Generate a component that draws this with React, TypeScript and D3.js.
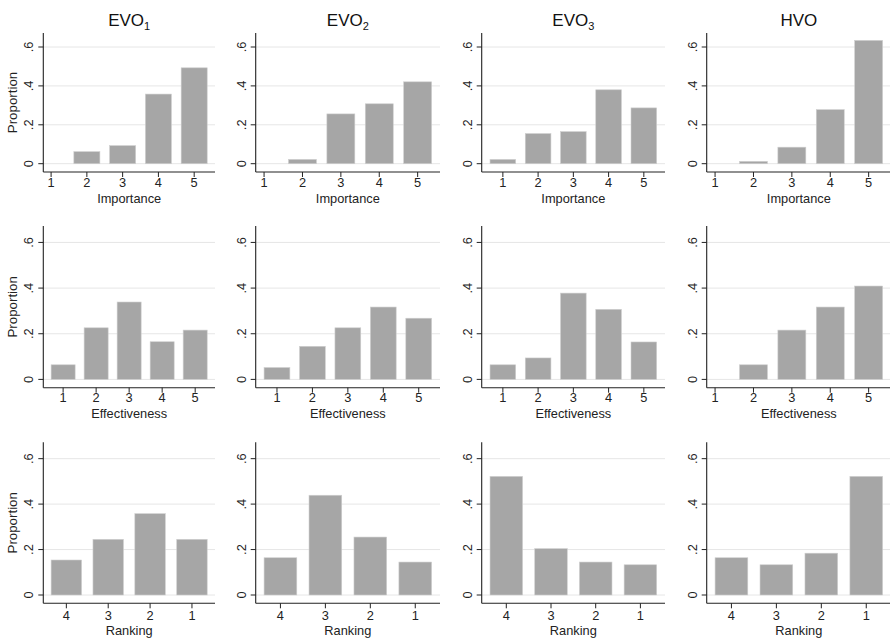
import React from "react";
import * as d3 from "d3";

const W = 890;
const H = 639;

// ---- data ----
const fivePointLabels = ["1", "2", "3", "4", "5"];
const rankingLabels = ["4", "3", "2", "1"];
const yTickValues = [0, 0.2, 0.4, 0.6];
const yTickLabels = ["0", ".2", ".4", ".6"];
const groupNames = ["EVO", "EVO", "EVO", "HVO"];
const groupSubs = ["1", "2", "3", ""];
const rowTitles = ["Importance", "Effectiveness", "Ranking"];

const importanceEVO1 = [0, 0.062, 0.093, 0.358, 0.493];
const importanceEVO2 = [0, 0.022, 0.256, 0.308, 0.421];
const importanceEVO3 = [0.022, 0.155, 0.165, 0.38, 0.287];
const importanceHVO = [0, 0.012, 0.085, 0.278, 0.634];

const effectivenessEVO1 = [0.064, 0.226, 0.339, 0.165, 0.216];
const effectivenessEVO2 = [0.052, 0.145, 0.226, 0.317, 0.268];
const effectivenessEVO3 = [0.064, 0.094, 0.378, 0.307, 0.164];
const effectivenessHVO = [0, 0.064, 0.216, 0.317, 0.409];

const rankingEVO1 = [0.154, 0.245, 0.358, 0.245];
const rankingEVO2 = [0.164, 0.439, 0.255, 0.145];
const rankingEVO3 = [0.522, 0.204, 0.145, 0.133];
const rankingHVO = [0.164, 0.133, 0.184, 0.522];

const rowsData = [
  [importanceEVO1, importanceEVO2, importanceEVO3, importanceHVO],
  [effectivenessEVO1, effectivenessEVO2, effectivenessEVO3, effectivenessHVO],
  [rankingEVO1, rankingEVO2, rankingEVO3, rankingHVO],
];
const rowLabels = [fivePointLabels, fivePointLabels, rankingLabels];

// ---- layout ----
const colLeft = [43.3, 255.7, 481.7, 706.7];
const colRight = [215, 440, 665, 891];
const rowTop = [33, 226, 442.3];
const rowBottom = [172, 387.7, 603.3];
const tickLabelOffset = [14.5, 14.2, 17];
const titleOffset = [30.5, 30.5, 31.5];

const FONT = "'Liberation Sans', Arial, Helvetica, sans-serif";
const BAR_W = 0.728;
const Y_MAX = 0.672;
const ZERO_GAP = 8.3;

type PanelProps = {
  values: number[];
  labels: string[];
  xTitle: string;
  left: number;
  right: number;
  top: number;
  bottom: number;
  labelOff: number;
  titleOff: number;
  showYTitle: boolean;
  title?: { name: string; sub: string } | null;
};

function Panel({ values, labels, xTitle, left, right, top, bottom, labelOff, titleOff, showYTitle, title }: PanelProps) {
  const n = labels.length;
  const positions = labels.map((_, i) => i + 1);
  const nz = values.map((v, i) => (v > 0 ? i + 1 : null)).filter((v) => v !== null) as number[];
  const lo = Math.min(1, (nz[0] ?? 1) - BAR_W / 2);
  const hi = Math.max(n, (nz[nz.length - 1] ?? n) + BAR_W / 2);
  const pad = 0.05 * (hi - lo);
  const x = d3.scaleLinear().domain([lo - pad, hi + pad]).range([left, right]);
  const y = d3.scaleLinear().domain([0, Y_MAX]).range([bottom - ZERO_GAP, top]);
  const step = x(2) - x(1);
  const bw = step * BAR_W;
  const cx = (left + right) / 2;
  const cy = (top + bottom) / 2;
  return (
    <g>
      {yTickValues.map((t) => (
        <line key={"g" + t} x1={left} x2={right} y1={y(t)} y2={y(t)} stroke="#e6e6e6" strokeWidth={1} />
      ))}
      {values.map((v, i) =>
        v > 0 ? (
          <rect
            key={"b" + i}
            x={x(positions[i]) - bw / 2}
            y={y(v)}
            width={bw}
            height={y(0) - y(v)}
            fill="#a6a6a6"
            stroke="#cfcfcf"
            strokeWidth={0.6}
          />
        ) : null
      )}
      <line x1={left} x2={left} y1={top} y2={bottom} stroke="#222" strokeWidth={1.1} />
      <line x1={left} x2={right} y1={bottom} y2={bottom} stroke="#222" strokeWidth={1.1} />
      {yTickValues.map((t, i) => (
        <g key={"yt" + t}>
          <line x1={left - 5} x2={left} y1={y(t)} y2={y(t)} stroke="#222" strokeWidth={1} />
          <text
            transform={`translate(${left - 10},${y(t)}) rotate(-90)`}
            textAnchor="middle"
            fontSize={12.8}
            fontFamily={FONT}
            fill="#222"
          >
            {yTickLabels[i]}
          </text>
        </g>
      ))}
      {positions.map((p, i) => (
        <g key={"xt" + p}>
          <line x1={x(p)} x2={x(p)} y1={bottom} y2={bottom + 5} stroke="#222" strokeWidth={1} />
          <text x={x(p)} y={bottom + labelOff} textAnchor="middle" fontSize={12.8} fontFamily={FONT} fill="#222">
            {labels[i]}
          </text>
        </g>
      ))}
      <text x={cx} y={bottom + titleOff} textAnchor="middle" fontSize={12.8} fontFamily={FONT} fill="#222">
        {xTitle}
      </text>
      {showYTitle && (
        <text
          transform={`translate(16.5,${cy}) rotate(-90)`}
          textAnchor="middle"
          fontSize={13.3}
          fontFamily={FONT}
          fill="#222"
        >
          Proportion
        </text>
      )}
      {title && (
        <text x={cx} y={26} textAnchor="middle" fontSize={17} fontFamily={FONT} fill="#111">
          {title.name}
          {title.sub && (
            <tspan fontSize={11} dy={4}>
              {title.sub}
            </tspan>
          )}
        </text>
      )}
    </g>
  );
}

export default function App() {
  return (
    <svg
      width={W}
      height={H}
      viewBox={`0 0 ${W} ${H}`}
      style={{ position: "absolute", left: 0, top: 0, background: "#fff" }}
    >
      <rect x={0} y={0} width={W} height={H} fill="#fff" />
      {rowsData.map((row, r) =>
        row.map((vals, c) => (
          <Panel
            key={`${r}-${c}`}
            values={vals}
            labels={rowLabels[r]}
            xTitle={rowTitles[r]}
            left={colLeft[c]}
            right={colRight[c]}
            top={rowTop[r]}
            bottom={rowBottom[r]}
            labelOff={tickLabelOffset[r]}
            titleOff={titleOffset[r]}
            showYTitle={c === 0}
            title={r === 0 ? { name: groupNames[c], sub: groupSubs[c] } : null}
          />
        ))
      )}
    </svg>
  );
}
